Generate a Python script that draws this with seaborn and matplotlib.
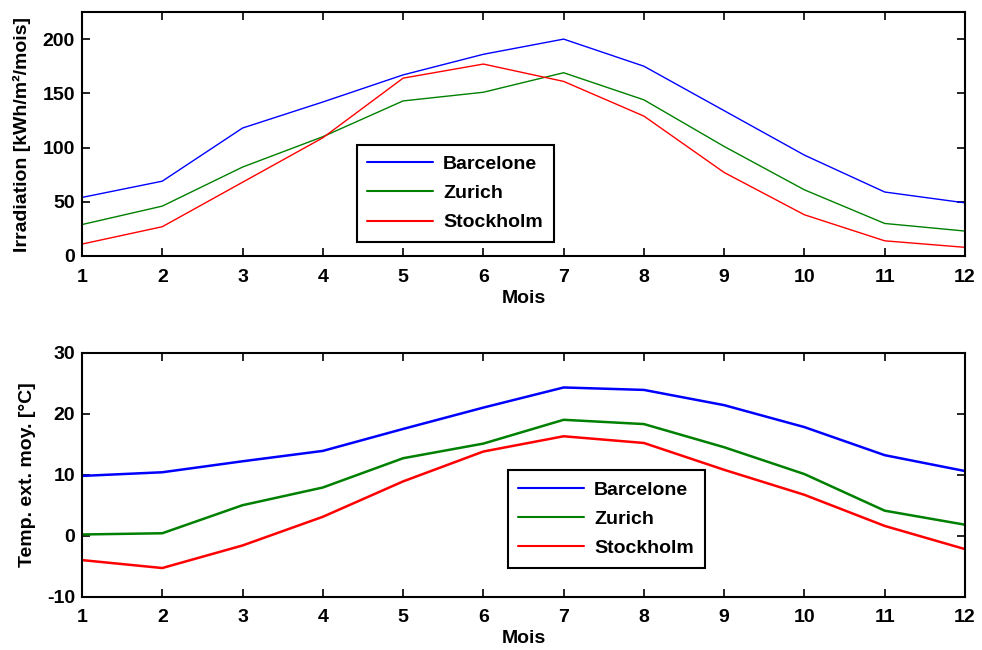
import numpy as np
import pandas as pd
import matplotlib
matplotlib.use("Agg")
import matplotlib.pyplot as plt
import seaborn as sns

months = list(range(1, 13))
cities = ["Barcelone", "Zurich", "Stockholm"]
irr_barcelone = [54, 69, 118, 142, 167, 186, 200, 175, 134, 93, 59, 49]
irr_zurich = [29, 46, 82, 110, 143, 151, 169, 144, 101, 61, 30, 23]
irr_stockholm = [11, 27, 68, 109, 164, 177, 161, 129, 77, 38, 14, 8]
temp_barcelone = [9.8, 10.4, 12.2, 13.9, 17.5, 21.0, 24.3, 23.9, 21.4, 17.8, 13.2, 10.6]
temp_zurich = [0.2, 0.4, 5.0, 7.9, 12.7, 15.1, 19.0, 18.3, 14.5, 10.1, 4.1, 1.8]
temp_stockholm = [-4.0, -5.3, -1.6, 3.1, 8.9, 13.8, 16.3, 15.2, 10.8, 6.7, 1.6, -2.2]

colors = ["#0000ff", "#008000", "#ff0000"]

sns.set_style("ticks")
plt.rcParams["font.family"] = ["Liberation Sans", "DejaVu Sans"]
plt.rcParams["font.weight"] = "bold"
plt.rcParams["axes.labelweight"] = "bold"
plt.rcParams["axes.unicode_minus"] = False
plt.rcParams["text.color"] = "black"
plt.rcParams["axes.labelcolor"] = "black"
plt.rcParams["xtick.color"] = "black"
plt.rcParams["ytick.color"] = "black"

irr = pd.DataFrame({
    "Mois": months * 3,
    "val": irr_barcelone + irr_zurich + irr_stockholm,
    "city": sum([[c] * 12 for c in cities], []),
})
temp = pd.DataFrame({
    "Mois": months * 3,
    "val": temp_barcelone + temp_zurich + temp_stockholm,
    "city": sum([[c] * 12 for c in cities], []),
})

fig = plt.figure(figsize=(9.82, 6.5), dpi=100)
W, H = 982, 650
ax1 = fig.add_axes([82 / W, 1 - 256 / H, (965 - 82) / W, (256 - 12) / H])
ax2 = fig.add_axes([82 / W, 1 - 596.7 / H, (965 - 82) / W, (596.7 - 352.7) / H])

sns.lineplot(data=irr, x="Mois", y="val", hue="city", palette=colors,
             ax=ax1, linewidth=1.0)
sns.lineplot(data=temp, x="Mois", y="val", hue="city", palette=colors,
             ax=ax2, linewidth=1.8)

fs = 14
for ax, ylab, ylim, yticks, leg_anchor in [
    (ax1, "Irradiation [kWh/m²/mois]", (0, 225), [0, 50, 100, 150, 200], (0.311, 0.057)),
    (ax2, "Temp. ext. moy. [°C]", (-10, 30), [-10, 0, 10, 20, 30], (0.482, 0.118)),
]:
    ax.set_xlim(1, 12)
    ax.set_ylim(*ylim)
    ax.set_xticks(months)
    ax.set_yticks(yticks)
    ax.set_xlabel("Mois", fontsize=fs, fontweight="bold", labelpad=3)
    ax.set_ylabel(ylab, fontsize=fs, fontweight="bold", labelpad=8)
    ax.tick_params(axis="x", pad=9)
    ax.tick_params(axis="y", pad=5)
    ax.tick_params(axis="both", direction="in", length=6, width=1.2,
                   labelsize=fs, top=True, right=True)
    for lab in ax.get_xticklabels() + ax.get_yticklabels():
        lab.set_fontweight("bold")
    for sp in ax.spines.values():
        sp.set_visible(True)
        sp.set_linewidth(1.5)
        sp.set_color("black")
    handles, labels = ax.get_legend_handles_labels()
    leg = ax.legend(handles, labels, loc="lower left", bbox_to_anchor=leg_anchor,
                    borderaxespad=0, fancybox=False, framealpha=1,
                    edgecolor="black", handlelength=3.4,
                    prop={"weight": "bold", "size": fs}, borderpad=0.55,
                    labelspacing=0.6, handletextpad=0.5)
    leg.get_frame().set_linewidth(1.5)
    for lh in leg.get_lines():
        lh.set_linewidth(1.5)

fig.savefig("out.png", dpi=100)
